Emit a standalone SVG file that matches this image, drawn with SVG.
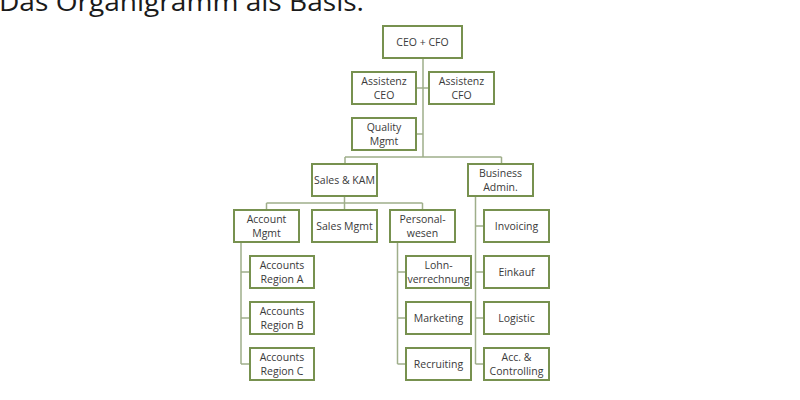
<svg xmlns="http://www.w3.org/2000/svg" width="800" height="400" viewBox="0 0 800 400">
<style>
.box{fill:#ffffff;stroke:#77914f;stroke-width:2}
.lbl{font-family:"Open Sans","Noto Sans",sans-serif;font-size:10.5px;fill:#3a3a3a;text-anchor:middle}
.con{fill:none;stroke:#9fae8a;stroke-width:1.5}
.title{font-family:"Open Sans","Noto Sans",sans-serif;font-size:26px;fill:#1a1a1a}
</style>
<rect width="800" height="400" fill="#ffffff"/>
<text class="title" x="-1" y="11" textLength="365" lengthAdjust="spacingAndGlyphs">Das Organigramm als Basis.</text>
<g id="connectors">
<path class="con" d="M423,58 V157 M416,88 H429 M416,134 H423 M345,157 H501.5 M345,157 V164 M501.5,157 V164"/>
<path class="con" d="M344.5,196 V203 M266.5,203 H422.5 M266.5,203 V210 M344.5,203 V210 M422.5,203 V210"/>
<path class="con" d="M241,242 V364 M241,272 H250 M241,318 H250 M241,364 H250"/>
<path class="con" d="M397.5,242 V364 M397.5,272 H406 M397.5,318 H406 M397.5,364 H406"/>
<path class="con" d="M475.5,196 V364 M475.5,226 H484 M475.5,272 H484 M475.5,318 H484 M475.5,364 H484"/>
</g>
<g id="ceo"><rect class="box" x="383" y="26" width="79" height="32"/><text class="lbl" x="422.5" y="46">CEO + CFO</text></g>
<g id="asst-ceo"><rect class="box" x="352" y="72" width="64" height="32"/><text class="lbl" x="384" y="84.5">Assistenz</text><text class="lbl" x="384" y="98.5">CEO</text></g>
<g id="asst-cfo"><rect class="box" x="429" y="72" width="65" height="32"/><text class="lbl" x="461.5" y="84.5">Assistenz</text><text class="lbl" x="461.5" y="98.5">CFO</text></g>
<g id="quality"><rect class="box" x="352" y="118" width="64" height="32"/><text class="lbl" x="384" y="130.5">Quality</text><text class="lbl" x="384" y="144.5">Mgmt</text></g>
<g id="sales"><rect class="box" x="312" y="164" width="65" height="32"/><text class="lbl" x="344.5" y="184">Sales &amp; KAM</text></g>
<g id="business"><rect class="box" x="468" y="164" width="65" height="32"/><text class="lbl" x="500.5" y="176.5">Business</text><text class="lbl" x="500.5" y="190.5">Admin.</text></g>
<g id="account"><rect class="box" x="234" y="210" width="65" height="32"/><text class="lbl" x="266.5" y="222.5">Account</text><text class="lbl" x="266.5" y="236.5">Mgmt</text></g>
<g id="salesmgmt"><rect class="box" x="312" y="210" width="65" height="32"/><text class="lbl" x="344.5" y="230">Sales Mgmt</text></g>
<g id="personal"><rect class="box" x="390" y="210" width="65" height="32"/><text class="lbl" x="422.5" y="222.5">Personal-</text><text class="lbl" x="422.5" y="236.5">wesen</text></g>
<g id="invoicing"><rect class="box" x="484" y="210" width="65" height="32"/><text class="lbl" x="516.5" y="230">Invoicing</text></g>
<g id="region-a"><rect class="box" x="250" y="256" width="64" height="32"/><text class="lbl" x="282" y="268.5">Accounts</text><text class="lbl" x="282" y="282.5">Region A</text></g>
<g id="region-b"><rect class="box" x="250" y="302" width="64" height="32"/><text class="lbl" x="282" y="314.5">Accounts</text><text class="lbl" x="282" y="328.5">Region B</text></g>
<g id="region-c"><rect class="box" x="250" y="348" width="64" height="32"/><text class="lbl" x="282" y="360.5">Accounts</text><text class="lbl" x="282" y="374.5">Region C</text></g>
<g id="lohn"><rect class="box" x="406" y="256" width="65" height="32"/><text class="lbl" x="438.5" y="268.5">Lohn-</text><text class="lbl" x="438.5" y="282.5">verrechnung</text></g>
<g id="marketing"><rect class="box" x="406" y="302" width="65" height="32"/><text class="lbl" x="438.5" y="322">Marketing</text></g>
<g id="recruiting"><rect class="box" x="406" y="348" width="65" height="32"/><text class="lbl" x="438.5" y="368">Recruiting</text></g>
<g id="einkauf"><rect class="box" x="484" y="256" width="65" height="32"/><text class="lbl" x="516.5" y="276">Einkauf</text></g>
<g id="logistic"><rect class="box" x="484" y="302" width="65" height="32"/><text class="lbl" x="516.5" y="322">Logistic</text></g>
<g id="acc"><rect class="box" x="484" y="348" width="65" height="32"/><text class="lbl" x="516.5" y="360.5">Acc. &amp;</text><text class="lbl" x="516.5" y="374.5">Controlling</text></g>
</svg>
